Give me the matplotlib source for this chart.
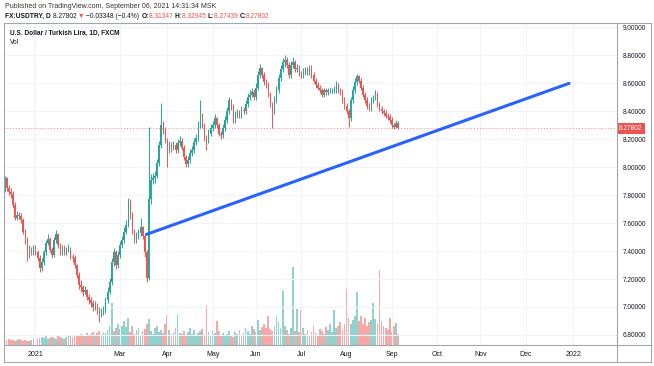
import numpy as np
import pandas as pd
import matplotlib
matplotlib.use('Agg')
import matplotlib.pyplot as plt
from matplotlib.lines import Line2D

'''<==========DATA==========>'''

start_day = '2020-12-10'
first_open = 7.98

closes = [
    7.84, 7.92, 7.85, 7.82, 7.81, 7.73, 7.64, 7.66, 7.65, 7.62,
    7.54, 7.48, 7.37, 7.41, 7.39, 7.42, 7.39, 7.35, 7.28, 7.32,
    7.39, 7.46, 7.49, 7.41, 7.37, 7.48, 7.52, 7.44, 7.39, 7.42,
    7.39, 7.41, 7.42, 7.36, 7.35, 7.30, 7.23, 7.16, 7.14, 7.11,
    7.12, 7.07, 7.05, 7.03, 7.00, 7.01, 6.98, 6.96, 6.96, 6.98,
    7.05, 7.11, 7.18, 7.32, 7.39, 7.30, 7.37, 7.44, 7.48, 7.54,
    7.59, 7.75, 7.66, 7.54, 7.48, 7.51, 7.53, 7.57, 7.51, 7.39,
    7.21, 7.77, 7.91, 7.92, 7.94, 8.03, 8.16, 8.30, 8.27, 8.19,
    8.12, 8.16, 8.14, 8.16, 8.12, 8.17, 8.19, 8.14, 8.07, 8.02,
    8.05, 8.10, 8.12, 8.18, 8.21, 8.30, 8.37, 8.30, 8.21, 8.19,
    8.24, 8.28, 8.30, 8.35, 8.30, 8.24, 8.23, 8.28, 8.34, 8.40,
    8.48, 8.43, 8.34, 8.37, 8.39, 8.37, 8.41, 8.40, 8.45, 8.50,
    8.52, 8.54, 8.50, 8.57, 8.66, 8.71, 8.66, 8.61, 8.59, 8.52,
    8.45, 8.40, 8.48, 8.55, 8.64, 8.70, 8.75, 8.77, 8.73, 8.66,
    8.73, 8.75, 8.70, 8.71, 8.67, 8.66, 8.68, 8.70, 8.68, 8.70,
    8.66, 8.62, 8.59, 8.57, 8.55, 8.52, 8.55, 8.54, 8.55, 8.55,
    8.55, 8.55, 8.59, 8.55, 8.54, 8.48, 8.44, 8.40, 8.35, 8.48,
    8.55, 8.61, 8.65, 8.62, 8.57, 8.52, 8.48, 8.44, 8.42, 8.48,
    8.50, 8.53, 8.45, 8.42, 8.40, 8.39, 8.37, 8.36, 8.34, 8.30,
    8.29, 8.31347, 8.27802,
]

highs = [
    8.03, 7.94, 7.93, 7.87, 7.85, 7.83, 7.75, 7.69, 7.68, 7.67,
    7.64, 7.56, 7.50, 7.44, 7.43, 7.44, 7.44, 7.41, 7.37, 7.35,
    7.41, 7.48, 7.52, 7.50, 7.43, 7.50, 7.55, 7.53, 7.46, 7.44,
    7.44, 7.43, 7.45, 7.43, 7.38, 7.37, 7.31, 7.25, 7.19, 7.16,
    7.15, 7.13, 7.09, 7.07, 7.05, 7.04, 7.03, 7.00, 6.99, 7.01,
    7.07, 7.14, 7.21, 7.35, 7.42, 7.41, 7.40, 7.47, 7.51, 7.57,
    7.62, 7.78, 7.77, 7.68, 7.56, 7.54, 7.56, 7.64, 7.58, 7.53,
    7.41, 8.29, 7.95, 7.96, 7.97, 8.06, 8.19, 8.46, 8.33, 8.29,
    8.21, 8.19, 8.18, 8.19, 8.18, 8.20, 8.22, 8.21, 8.16, 8.09,
    8.08, 8.13, 8.15, 8.21, 8.24, 8.33, 8.48, 8.39, 8.32, 8.23,
    8.27, 8.31, 8.33, 8.38, 8.36, 8.32, 8.26, 8.31, 8.37, 8.43,
    8.50, 8.49, 8.45, 8.40, 8.42, 8.41, 8.44, 8.43, 8.48, 8.53,
    8.55, 8.57, 8.56, 8.60, 8.69, 8.74, 8.72, 8.68, 8.63, 8.61,
    8.54, 8.47, 8.51, 8.58, 8.67, 8.73, 8.78, 8.80, 8.79, 8.75,
    8.76, 8.79, 8.77, 8.74, 8.73, 8.69, 8.71, 8.72, 8.72, 8.73,
    8.73, 8.68, 8.64, 8.61, 8.59, 8.57, 8.57, 8.57, 8.57, 8.57,
    8.57, 8.58, 8.62, 8.60, 8.57, 8.56, 8.50, 8.46, 8.42, 8.50,
    8.58, 8.64, 8.67, 8.66, 8.64, 8.59, 8.54, 8.50, 8.46, 8.50,
    8.52, 8.55, 8.54, 8.47, 8.44, 8.42, 8.41, 8.39, 8.38, 8.36,
    8.32, 8.34, 8.32945,
]

lows = [
    7.82, 7.82, 7.83, 7.80, 7.78, 7.71, 7.62, 7.62, 7.63, 7.60,
    7.52, 7.45, 7.33, 7.35, 7.37, 7.37, 7.37, 7.33, 7.25, 7.26,
    7.30, 7.37, 7.44, 7.39, 7.35, 7.36, 7.46, 7.42, 7.37, 7.37,
    7.37, 7.37, 7.39, 7.34, 7.32, 7.28, 7.21, 7.13, 7.11, 7.08,
    7.09, 7.05, 7.02, 7.00, 6.97, 6.98, 6.95, 6.89, 6.93, 6.94,
    6.96, 7.03, 7.09, 7.16, 7.29, 7.27, 7.28, 7.35, 7.42, 7.46,
    7.52, 7.57, 7.63, 7.52, 7.46, 7.46, 7.49, 7.51, 7.49, 7.36,
    7.18, 7.19, 7.74, 7.88, 7.89, 7.92, 8.01, 8.14, 8.24, 8.17,
    8.00, 8.10, 8.11, 8.12, 8.10, 8.10, 8.15, 8.12, 8.05, 8.00,
    8.00, 8.03, 8.08, 8.10, 8.16, 8.19, 8.28, 8.28, 8.19, 8.12,
    8.17, 8.22, 8.26, 8.28, 8.28, 8.22, 8.20, 8.21, 8.26, 8.32,
    8.38, 8.41, 8.32, 8.32, 8.35, 8.35, 8.35, 8.38, 8.38, 8.43,
    8.48, 8.50, 8.48, 8.48, 8.55, 8.64, 8.64, 8.59, 8.57, 8.50,
    8.43, 8.28, 8.38, 8.46, 8.53, 8.62, 8.68, 8.72, 8.71, 8.64,
    8.64, 8.71, 8.68, 8.68, 8.65, 8.64, 8.64, 8.66, 8.66, 8.66,
    8.64, 8.60, 8.57, 8.55, 8.53, 8.50, 8.50, 8.52, 8.52, 8.53,
    8.53, 8.53, 8.53, 8.53, 8.52, 8.46, 8.42, 8.38, 8.29, 8.33,
    8.46, 8.53, 8.59, 8.60, 8.55, 8.50, 8.46, 8.42, 8.40, 8.40,
    8.46, 8.48, 8.43, 8.40, 8.38, 8.37, 8.35, 8.34, 8.32, 8.28,
    8.27, 8.28, 8.27439,
]

volumes = [
    6, 7, 5, 6, 5, 5, 4, 5, 6, 5, 4, 5, 4, 4, 5,
    7, 8, 6, 7, 8, 7, 9, 6, 7, 8, 7, 6, 9, 8, 7, 6, 8, 9, 10, 8, 9, 11,
    10, 12, 9, 11, 13, 10, 12, 14, 11, 13, 15, 12, 14, 13, 16, 20,
    44,
    15, 18, 22, 17, 20, 25, 19,
    28,
    14, 20, 12, 16, 18, 11, 15, 17,
    22, 27,
    15, 12, 18, 20, 14, 16, 13, 22,
    32,
    16, 12, 14, 18, 32, 13,
    12, 15, 10, 14, 18, 12, 16, 11, 13, 15, 17, 12,
    42,
    14, 11, 16, 13, 25, 15,
    10, 13, 9, 12, 15, 11, 8, 14, 12, 16, 10, 13, 18, 15, 12, 20, 17, 14, 26,
    16, 19, 22, 18, 30,
    17, 15, 20, 31,
    24, 18, 57,
    20, 16, 12, 18, 82,
    15, 38, 14, 37,
    18, 12, 16, 10, 14, 20, 13, 11, 17, 15, 12, 19, 16, 22, 14,
    37, 18,
    20, 24, 16, 22, 59,
    28, 22, 26, 30, 56,
    25, 30, 22, 28, 20, 24, 26, 44,
    27, 22, 79, 25,
    20, 18, 16, 28, 14, 20, 23, 12,
]

# trend line drawn by hand on the chart (bar index, price)
trend_bars = [70, 275]
trend_prices = [7.52, 8.60]

last_price = 8.27802
price_ticks = [6.8, 7.0, 7.2, 7.4, 7.6, 7.8, 8.0, 8.2, 8.4, 8.6, 8.8, 9.0]
month_labels = ['2021', 'Mar', 'Apr', 'May', 'Jun', 'Jul', 'Aug', 'Sep',
                'Oct', 'Nov', 'Dec', '2022']
month_starts = ['2021-01-01', '2021-03-01', '2021-04-01', '2021-05-03',
                '2021-06-01', '2021-07-01', '2021-08-02', '2021-09-01',
                '2021-10-01', '2021-11-01', '2021-12-01', '2022-01-03']

header1 = 'Published on TradingView.com, September 06, 2021 14:31:34 MSK'
title = 'U.S. Dollar / Turkish Lira, 1D, FXCM'

'''<==========PLOT==========>'''

UP = '#26a69a'
DOWN = '#ef5350'
TXT = '#131722'
W, H = 654, 366

plt.rcParams['font.family'] = ['Liberation Sans', 'DejaVu Sans']

n = len(closes)
assert len(highs) == n and len(lows) == n and len(volumes) == n
opens = [first_open] + closes[:-1]
x = np.arange(n)
up = np.array(closes) >= np.array(opens)

days = pd.bdate_range(start_day, '2022-03-31')
tick_pos = [days.get_loc(pd.Timestamp(d)) for d in month_starts]


def fx(px):
    return px / W


def fy(py):
    return 1 - py / H


fig = plt.figure(figsize=(W / 100, H / 100), dpi=100)
fig.patch.set_facecolor('white')

left, right, top, bottom = 4, 617, 23, 345
rect = [fx(left), fy(bottom), fx(right - left), (bottom - top) / H]

vax = fig.add_axes(rect)
ax = fig.add_axes(rect, sharex=vax)
ax.patch.set_visible(False)

x0, x1 = 0.73, 298.3
vax.set_xlim(x0, x1)
vax.set_ylim(0, 82 * (bottom - top) / 78)
vax.bar(x[up], np.array(volumes)[up], width=0.85, color=UP, alpha=0.5, lw=0)
vax.bar(x[~up], np.array(volumes)[~up], width=0.85, color=DOWN, alpha=0.5, lw=0)
vax.set_yticks([])
for s in vax.spines.values():
    s.set_visible(False)
vax.tick_params(axis='x', length=0, labelbottom=False)

# grid
for p in price_ticks:
    ax.axhline(p, color='#f0f3fa', lw=0.8, zorder=0)
for t in tick_pos:
    ax.axvline(t, color='#f0f3fa', lw=0.8, zorder=0)

# candles
o = np.array(opens)
c = np.array(closes)
body_lo = np.minimum(o, c)
body_h = np.maximum(np.abs(c - o), 0.004)
cols = np.where(up, UP, DOWN)
ax.vlines(x, lows, highs, colors=cols, lw=0.7, zorder=2)
ax.bar(x, body_h, bottom=body_lo, width=0.62, color=cols, lw=0, zorder=3)

ax.axhline(last_price, color=DOWN, lw=0.7, ls=(0, (1, 2)), alpha=0.7, zorder=1)
ax.plot(trend_bars, trend_prices, color='#2962ff', lw=2.2, solid_capstyle='round', zorder=4)

ax.set_ylim(6.728, 9.032)
ax.set_xlim(x0, x1)
ax.yaxis.tick_right()
ax.set_yticks(price_ticks)
ax.set_yticklabels([f'{p:.5f}' for p in price_ticks])
ax.tick_params(axis='y', length=0, pad=4, labelsize=4.7, labelcolor=TXT)
ax.set_xticks(tick_pos)
ax.set_xticklabels(month_labels)
ax.tick_params(axis='x', length=0, pad=4, labelsize=5.0, labelcolor=TXT)
for s in ax.spines.values():
    s.set_visible(False)

# last price tag
ax.text(1.0 + 2 / (right - left), last_price, f'{last_price:.5f}',
        transform=ax.get_yaxis_transform(), ha='left', va='center', fontsize=4.7,
        color='white', zorder=10, clip_on=False,
        bbox=dict(boxstyle='square,pad=0.35', fc=DOWN, ec='none'))

# frame
frame = '#a3a6af'
for (xa, ya, xb, yb) in [(4, 23, 651, 23), (4, 362, 651, 362), (4, 23, 4, 362),
                         (651, 23, 651, 362), (617, 23, 617, 362), (4, 345, 651, 345)]:
    fig.add_artist(Line2D([fx(xa), fx(xb)], [fy(ya), fy(yb)], color=frame, lw=0.8))

# header text
renderer = fig.canvas.get_renderer()


def put(px, py, s, **kw):
    t = fig.text(fx(px), fy(py), s, va='center', ha='left', **kw)
    return px + t.get_window_extent(renderer).width


put(5, 6, header1, fontsize=5.0, color='#333333')
hx = 5
parts = [('FX:USDTRY, D ', TXT, 'bold'), ('8.27802 ', TXT, 'normal'),
         ('\u25bc ', DOWN, 'normal'), ('\u22120.03348 (\u22120.4%) ', TXT, 'normal'),
         ('O:', TXT, 'bold'), ('8.31347 ', DOWN, 'normal'),
         ('H:', TXT, 'bold'), ('8.32945 ', DOWN, 'normal'),
         ('L:', TXT, 'bold'), ('8.27439 ', DOWN, 'normal'),
         ('C:', TXT, 'bold'), ('8.27802', DOWN, 'normal')]
for s, col, wt in parts:
    hx = put(hx, 16, s, fontsize=4.8, color=col, fontweight=wt)

put(10, 33, title, fontsize=4.7, color=TXT, fontweight='bold')
put(10, 43, 'Vol', fontsize=4.7, color=TXT)

plt.savefig('out.png', dpi=100)
